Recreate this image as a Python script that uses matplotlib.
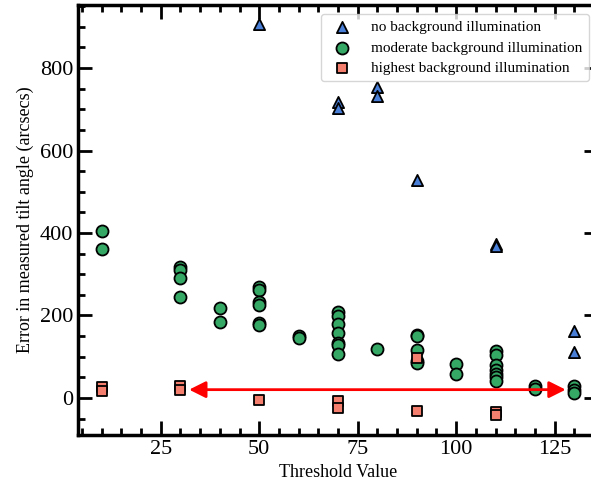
import matplotlib.pyplot as plt
from matplotlib.ticker import MultipleLocator

plt.rcParams['font.family'] = ['Liberation Serif', 'DejaVu Serif']

# no background illumination
none_x = [50, 70, 70, 80, 80, 90, 110, 110, 130, 130]
none_y = [907, 718, 703, 754, 732, 528, 373, 368, 162, 112]

# moderate background illumination
mod_x = [10, 10,
         30, 30, 30, 30,
         40, 40,
         50, 50, 50, 50, 50, 50,
         60, 60,
         70, 70, 70, 70, 70, 70, 70,
         80,
         90, 90, 90, 90, 90,
         100, 100,
         110, 110, 110, 110, 110, 110, 110,
         120, 120,
         130, 130, 130]
mod_y = [405, 361,
         318, 311, 292, 244,
         219, 185,
         270, 262, 233, 225, 181, 177,
         150, 146,
         209, 199, 179, 158, 134, 128, 106,
         119,
         153, 149, 116, 90, 84,
         82, 59,
         114, 104, 80, 68, 58, 50, 40,
         30, 21,
         30, 19, 12]

# highest background illumination
high_x = [10, 10, 30, 30, 50, 70, 70, 90, 90, 110, 110]
high_y = [27, 17, 28, 19, -4, -8, -25, 96, -32, -33, -42]

fig = plt.figure(figsize=(5.91, 4.90), dpi=100)
ax = fig.add_axes([78 / 591, 1 - 435 / 490, 520 / 591, 430 / 490])

ax.scatter(none_x, none_y, marker='^', s=65, c='#4a7fd8', edgecolors='black',
           linewidths=1.3, label='no background illumination', zorder=3)
ax.scatter(mod_x, mod_y, marker='o', s=75, c='#35a866', edgecolors='black',
           linewidths=1.3, label='moderate background illumination', zorder=3)
ax.scatter(high_x, high_y, marker='s', s=60, c='#f47f6f', edgecolors='black',
           linewidths=1.3, label='highest background illumination', zorder=4)

ax.annotate('', xy=(128.5, 20), xytext=(31.5, 20),
            arrowprops=dict(arrowstyle='<|-|>', color='red', lw=2, mutation_scale=25))

ax.set_xlim(4, 136)
ax.set_ylim(-90, 953)
ax.xaxis.set_major_locator(MultipleLocator(25))
ax.xaxis.set_minor_locator(MultipleLocator(5))
ax.yaxis.set_major_locator(MultipleLocator(200))
ax.yaxis.set_minor_locator(MultipleLocator(50))
ax.tick_params(which='both', direction='in', top=True, right=True, width=2, labelsize=16)
ax.tick_params(which='major', length=10)
ax.tick_params(which='minor', length=5)
for s in ax.spines.values():
    s.set_linewidth(2.5)

ax.set_xlabel('Threshold Value', fontsize=13)
ax.set_ylabel('Error in measured tilt angle (arcsecs)', fontsize=13)
ax.legend(loc='upper right', fontsize=11, handletextpad=0.9, borderaxespad=0.6,
          labelspacing=0.45)

fig.savefig('out.png', dpi=100)
